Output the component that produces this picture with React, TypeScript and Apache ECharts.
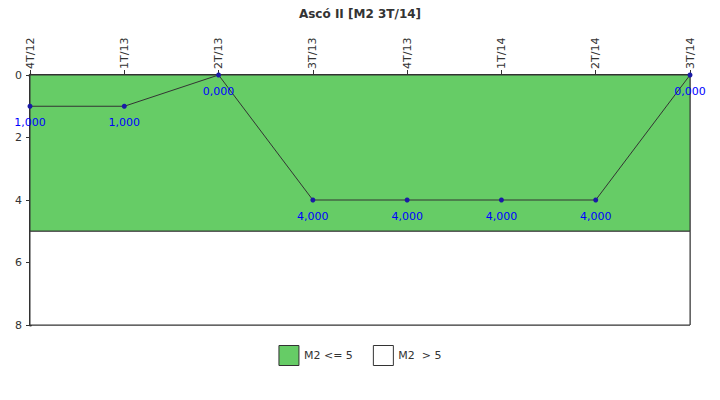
import React, { useEffect, useRef } from "react";
import * as echarts from "echarts";

const categories = ["4T/12", "1T/13", "2T/13", "3T/13", "4T/13", "1T/14", "2T/14", "3T/14"];
const values = [1, 1, 0, 4, 4, 4, 4, 0];
const yTicks = { min: 0, max: 8, interval: 2 };
const threshold = 5;
const legendNames = ["M2 <= 5", "M2  > 5"];

export default function App() {
  const ref = useRef<HTMLDivElement>(null);
  useEffect(() => {
    document.body.style.margin = "0";
    const chart = echarts.init(ref.current!, null, { renderer: "svg" });
    const font = "DejaVu Sans";
    chart.setOption({
      animation: false,
      textStyle: { fontFamily: font },
      title: {
        text: "Ascó II [M2 3T/14]",
        left: "center",
        top: 3,
        textStyle: { fontSize: 12, fontWeight: "bold", color: "#333", fontFamily: font },
      },
      legend: {
        bottom: 29,
        left: "center",
        itemWidth: 20,
        itemHeight: 20,
        itemGap: 20,
        icon: "rect",
        selectedMode: false,
        textStyle: { fontSize: 11, color: "#333", fontFamily: font },
        data: [
          { name: legendNames[0], itemStyle: { color: "#66cc66", borderColor: "#333", borderWidth: 1 } },
          { name: legendNames[1], itemStyle: { color: "#ffffff", borderColor: "#333", borderWidth: 1 } },
        ],
      },
      grid: {
        left: 30,
        right: 30,
        top: 75,
        bottom: 75,
        show: true,
        borderColor: "#333",
        borderWidth: 1,
        backgroundColor: "transparent",
      },
      xAxis: {
        type: "category",
        position: "top",
        boundaryGap: false,
        data: categories,
        axisLine: { show: true, lineStyle: { color: "#333", width: 3 } },
        axisTick: { show: true, length: 5, alignWithLabel: true, lineStyle: { color: "#333" } },
        axisLabel: { rotate: 90, fontSize: 11, color: "#333", fontFamily: font, margin: 6 },
        splitLine: { show: false },
      },
      yAxis: {
        type: "value",
        inverse: true,
        min: yTicks.min,
        max: yTicks.max,
        interval: yTicks.interval,
        axisLine: { show: true, lineStyle: { color: "#333", width: 3 } },
        axisTick: { show: true, length: 4, lineStyle: { color: "#333" } },
        axisLabel: { fontSize: 11, color: "#333", fontFamily: font, margin: 8 },
        splitLine: { show: false },
      },
      series: [
        {
          name: legendNames[0],
          type: "line",
          data: [],
          itemStyle: { color: "#66cc66" },
        },
        {
          name: legendNames[1],
          type: "line",
          data: [],
          itemStyle: { color: "#ffffff" },
        },
        {
          name: "M2",
          type: "line",
          data: values,
          symbol: "circle",
          symbolSize: 5,
          z: 5,
          lineStyle: { color: "#333", width: 1 },
          itemStyle: { color: "#1a1aa6" },
          label: {
            show: true,
            position: "bottom",
            distance: 8,
            color: "#0000ff",
            fontSize: 11,
            fontFamily: font,
            formatter: (p: any) => p.value.toFixed(3).replace(".", ","),
          },
          markArea: {
            silent: true,
            z: 1,
            data: [
              [
                { yAxis: yTicks.min, itemStyle: { color: "#66cc66", borderColor: "#333", borderWidth: 1 } },
                { yAxis: threshold },
              ],
              [
                { yAxis: threshold, itemStyle: { color: "#ffffff", borderColor: "#333", borderWidth: 1 } },
                { yAxis: yTicks.max },
              ],
            ],
          },
        },
      ],
    });
    return () => chart.dispose();
  }, []);
  return <div ref={ref} style={{ width: 720, height: 400 }} />;
}
